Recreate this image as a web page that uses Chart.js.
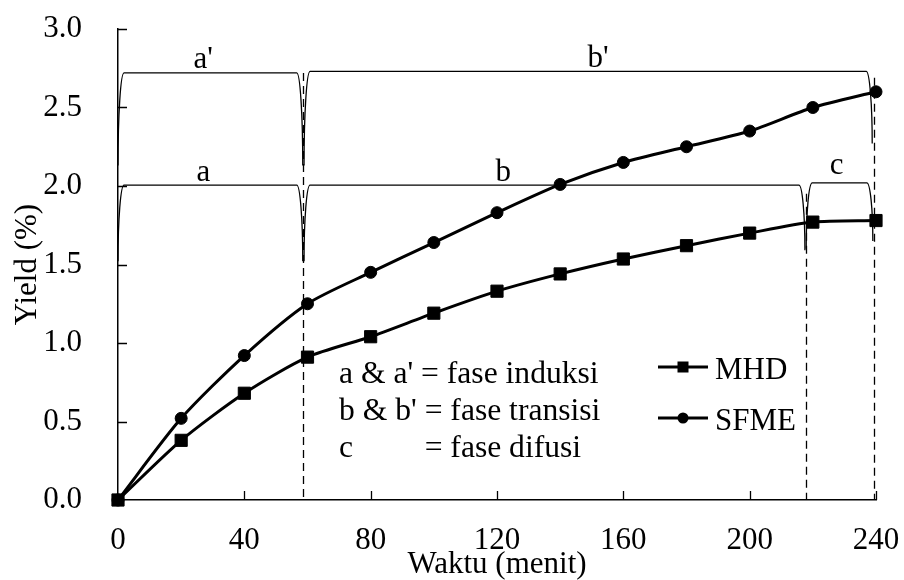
<!DOCTYPE html>
<html>
<head>
<meta charset="utf-8">
<script src="https://cdn.jsdelivr.net/npm/chart.js@4/dist/chart.umd.min.js"></script>
<style>
  html, body { margin: 0; padding: 0; background: #ffffff; }
  #wrap { width: 904px; height: 580px; }
</style>
</head>
<body>
<div id="wrap"><canvas id="chart" width="904" height="580"></canvas></div>
<script>
// Extraction time (minutes) and yield (%) for the two methods
const timeMinutes = [0, 20, 40, 60, 80, 100, 120, 140, 160, 180, 200, 220, 240];
const yieldMHD    = [0, 0.38, 0.68, 0.91, 1.04, 1.19, 1.33, 1.44, 1.535, 1.62, 1.70, 1.77, 1.78];
const yieldSFME   = [0, 0.52, 0.92, 1.25, 1.45, 1.64, 1.83, 2.01, 2.15, 2.25, 2.35, 2.50, 2.60];

// Axis ticks
const xTickValues = [0, 40, 80, 120, 160, 200, 240];
const yTickValues = [0, 0.5, 1.0, 1.5, 2.0, 2.5, 3.0];

// Phase braces (minutes / yield units): start, end, top, lower ends
const braceLabels = ["a'", "b'", "a", "b", "c"];
const braceStart  = [0, 58.9, 0, 58.9, 217.9];
const braceEnd    = [58.5, 238.8, 58.5, 217.5, 239.0];
const braceTop    = [2.72, 2.73, 2.005, 2.005, 2.02];
const braceLowL   = [2.13, 2.13, 1.52, 1.52, 1.60];
const braceLowR   = [2.13, 2.27, 1.52, 1.59, 1.65];
const braceTextX  = [27, 152, 27, 122, 227.5];
const braceTextY  = [2.75, 2.76, 2.035, 2.035, 2.075];

// Phase boundaries (dashed verticals)
const boundaryX   = [58.7, 217.7, 239.4];
const boundaryTop = [2.72, 1.95, 2.69];

// Phase legend text
const phaseNotes = ["a & a' = fase induksi", "b & b' = fase transisi", "= fase difusi"];

const FONT = '"Liberation Serif", "Times New Roman", Times, serif';
const FS = 31;

const phasePlugin = {
  id: 'phaseMarks',
  beforeDatasetsDraw(chart) {
    const ctx = chart.ctx;
    const xs = chart.scales.x, ys = chart.scales.y;
    const X = v => xs.getPixelForValue(v);
    const Y = v => ys.getPixelForValue(v);
    ctx.save();
    ctx.strokeStyle = '#000';

    // dashed boundaries
    ctx.lineWidth = 1.3;
    ctx.setLineDash([8, 5]);
    boundaryX.forEach((bx, i) => {
      ctx.beginPath();
      ctx.moveTo(Math.round(X(bx)) + 0.5, Y(boundaryTop[i]));
      ctx.lineTo(Math.round(X(bx)) + 0.5, Y(0));
      ctx.stroke();
    });
    ctx.setLineDash([]);

    // braces
    const k = 0.5523, r = 6;
    ctx.lineWidth = 1.3;
    braceLabels.forEach((lab, i) => {
      const x1 = X(braceStart[i]), x2 = X(braceEnd[i]);
      const yt = Y(braceTop[i]), yl = Y(braceLowL[i]), yr = Y(braceLowR[i]);
      ctx.beginPath();
      ctx.moveTo(x1, yl);
      ctx.bezierCurveTo(x1, yl - k * (yl - yt), x1 + r - k * r, yt, x1 + r, yt);
      ctx.lineTo(x2 - r, yt);
      ctx.bezierCurveTo(x2 - r + k * r, yt, x2, yr - k * (yr - yt), x2, yr);
      ctx.stroke();
    });

    // brace labels
    ctx.fillStyle = '#000';
    ctx.font = FS + 'px ' + FONT;
    ctx.textAlign = 'center';
    ctx.textBaseline = 'alphabetic';
    braceLabels.forEach((lab, i) => {
      ctx.fillText(lab, X(braceTextX[i]), Y(braceTextY[i]));
    });
    ctx.restore();
  },
  afterDatasetsDraw(chart) {
    const ctx = chart.ctx;
    const xs = chart.scales.x, ys = chart.scales.y;
    const X = v => xs.getPixelForValue(v);
    const Y = v => ys.getPixelForValue(v);
    const area = chart.chartArea;
    ctx.save();
    ctx.strokeStyle = '#000';
    ctx.lineWidth = 1.3;

    // inward tick marks
    ctx.beginPath();
    xTickValues.forEach(v => {
      if (v === xTickValues[0]) return;
      const px = Math.round(X(v)) + 0.5;
      ctx.moveTo(px, area.bottom);
      ctx.lineTo(px, area.bottom - 9);
    });
    yTickValues.forEach(v => {
      if (v === yTickValues[0]) return;
      const py = Math.round(Y(v)) + 0.5;
      ctx.moveTo(area.left, py);
      ctx.lineTo(area.left + 9, py);
    });
    ctx.stroke();

    // phase notes
    ctx.fillStyle = '#000';
    ctx.font = '31.6px ' + FONT;
    ctx.textAlign = 'left';
    ctx.textBaseline = 'alphabetic';
    const nx = X(70);
    ctx.fillText(phaseNotes[0], nx, Y(0.743));
    ctx.fillText(phaseNotes[1], nx, Y(0.508));
    ctx.fillText('c', nx, Y(0.275));
    ctx.fillText(phaseNotes[2], nx + ctx.measureText("b & b' ").width, Y(0.275));

    // series legend
    ctx.font = FS + 'px ' + FONT;
    const lx1 = 658, lx2 = 708, mx = 683;
    const rows = [{ y: 367, ds: 0, base: 379 }, { y: 418, ds: 1, base: 430 }];
    rows.forEach(row => {
      const ds = chart.data.datasets[row.ds];
      ctx.beginPath();
      ctx.lineWidth = 3;
      ctx.moveTo(lx1, row.y);
      ctx.lineTo(lx2, row.y);
      ctx.stroke();
      ctx.fillStyle = '#000';
      if (ds.pointStyle === 'rect') {
        ctx.fillRect(mx - 5.5, row.y - 5.5, 11, 11);
      } else {
        ctx.beginPath();
        ctx.arc(mx, row.y, 5.5, 0, Math.PI * 2);
        ctx.fill();
      }
      ctx.fillText(ds.label, 715, row.base);
    });
    ctx.restore();
  }
};

const toPoints = ys => timeMinutes.map((t, i) => ({ x: t, y: ys[i] }));

// Keep the plot box fixed: no extra room reserved for end tick labels
const noEdgePadding = s => {
  s.paddingTop = 0; s.paddingBottom = 0; s.paddingLeft = 0; s.paddingRight = 0;
};

new Chart(document.getElementById('chart'), {
  type: 'line',
  data: {
    datasets: [
      {
        label: 'MHD',
        data: toPoints(yieldMHD),
        borderColor: '#000',
        backgroundColor: '#000',
        borderWidth: 3,
        pointStyle: 'rect',
        pointRadius: 8.6,
        pointBorderWidth: 1,
        pointBackgroundColor: '#000',
        pointBorderColor: '#000',
        tension: 0.25,
        clip: false
      },
      {
        label: 'SFME',
        data: toPoints(yieldSFME),
        borderColor: '#000',
        backgroundColor: '#000',
        borderWidth: 3,
        pointStyle: 'circle',
        pointRadius: 6,
        pointBorderWidth: 1,
        pointBackgroundColor: '#000',
        pointBorderColor: '#000',
        tension: 0.25,
        clip: false
      }
    ]
  },
  options: {
    responsive: false,
    animation: false,
    devicePixelRatio: 1,
    layout: { padding: { left: 0, right: 28, top: 29, bottom: 0 } },
    plugins: {
      legend: { display: false },
      tooltip: { enabled: false }
    },
    scales: {
      x: {
        type: 'linear',
        min: 0,
        max: 240,
        afterBuildTicks: s => { s.ticks = xTickValues.map(v => ({ value: v })); },
        afterFit: s => { s.height = 80; noEdgePadding(s); },
        grid: { display: false },
        border: { display: true, color: '#000', width: 1.5 },
        ticks: {
          color: '#000',
          padding: 14,
          maxRotation: 0,
          autoSkip: false,
          font: { family: FONT, size: FS, lineHeight: 1.2 }
        },
        title: {
          display: true,
          text: 'Waktu (menit)',
          color: '#000',
          padding: { top: 0, bottom: 0 },
          font: { family: FONT, size: FS, lineHeight: 1 }
        }
      },
      y: {
        type: 'linear',
        min: 0,
        max: 3,
        afterBuildTicks: s => { s.ticks = yTickValues.map(v => ({ value: v })); },
        afterFit: s => { s.width = 118; noEdgePadding(s); },
        grid: { display: false },
        border: { display: true, color: '#000', width: 1.5 },
        ticks: {
          color: '#000',
          padding: 28,
          autoSkip: false,
          callback: v => Number(v).toFixed(1),
          font: { family: FONT, size: FS, lineHeight: 1.2 }
        },
        title: {
          display: true,
          text: 'Yield (%)',
          color: '#000',
          padding: { top: 12, bottom: 0 },
          font: { family: FONT, size: FS, lineHeight: 1 }
        }
      }
    }
  },
  plugins: [phasePlugin]
});
</script>
</body>
</html>
